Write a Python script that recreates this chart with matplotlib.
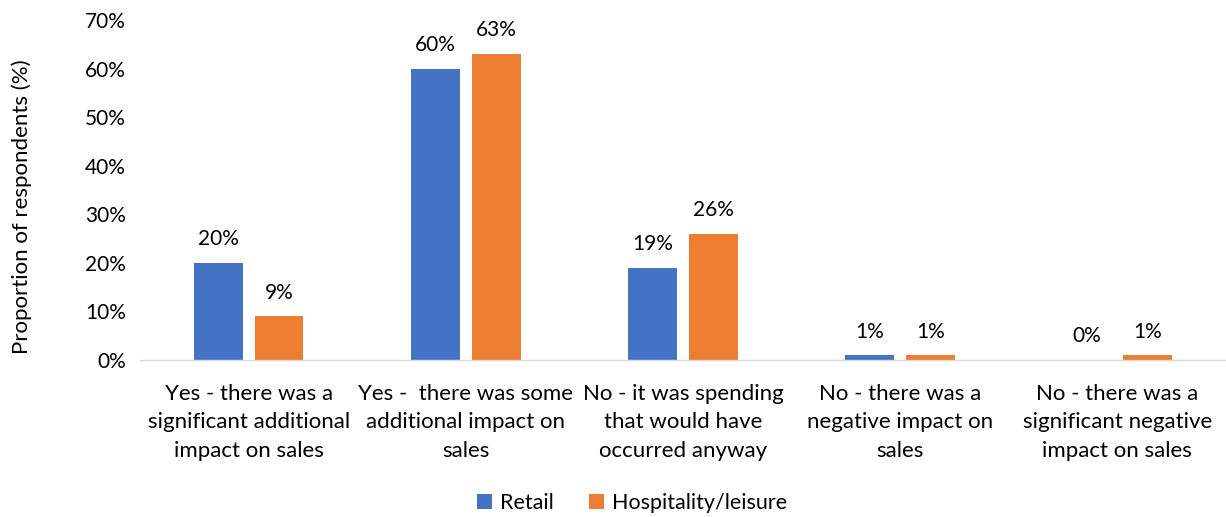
import matplotlib.pyplot as plt
import numpy as np

categories = [
    'Yes - there was a\nsignificant additional\nimpact on sales',
    'Yes -  there was some\nadditional impact on\nsales',
    'No - it was spending\nthat would have\noccurred anyway',
    'No - there was a\nnegative impact on\nsales',
    'No - there was a\nsignificant negative\nimpact on sales',
]
retail = [20, 60, 19, 1, 0]
hospitality = [9, 63, 26, 1, 1]

plt.rcParams['font.family'] = ['Lato', 'DejaVu Sans']

fig = plt.figure(figsize=(12.26, 5.17), dpi=100)
ax = fig.add_axes([140 / 1226, 1 - 360 / 517, 1086 / 1226, 340 / 517])

x = np.arange(len(categories))
w = 0.225
off = 0.14
b1 = ax.bar(x - off, retail, w, color='#4472C4', label='Retail')
b2 = ax.bar(x + off, hospitality, w, color='#ED7D31', label='Hospitality/leisure')

# value labels above each bar
for bars, vals in ((b1, retail), (b2, hospitality)):
    for b, v in zip(bars, vals):
        ax.text(b.get_x() + b.get_width() / 2, v + 2.8, f'{v}%',
                ha='center', va='bottom', fontsize=15, color='#000000')

ax.set_xlim(-0.5, len(categories) - 0.5)
ax.set_ylim(0, 70)
ax.set_yticks(range(0, 71, 10))
ax.set_yticklabels([f'{t}%' for t in range(0, 71, 10)], fontsize=15)
ax.set_xticks(x)
ax.set_xticklabels(categories, fontsize=16, linespacing=1.55)
ax.tick_params(length=0)
ax.tick_params(axis='y', pad=10)
ax.tick_params(axis='x', pad=17)

for s in ('top', 'right', 'left'):
    ax.spines[s].set_visible(False)
ax.spines['bottom'].set_color('#D9D9D9')
ax.spines['bottom'].set_linewidth(1)

ax.set_ylabel('Proportion of respondents (%)', fontsize=16)
ax.yaxis.set_label_coords((32 - 140) / 1086, 0.45)

fig.legend(handles=[b1, b2], loc='center', bbox_to_anchor=(632 / 1226, 1 - 503 / 517),
           ncol=2, frameon=False, fontsize=15.5, handlelength=0.7,
           handleheight=0.7, handletextpad=0.4, columnspacing=1.6)

fig.savefig('out.png', dpi=100)
